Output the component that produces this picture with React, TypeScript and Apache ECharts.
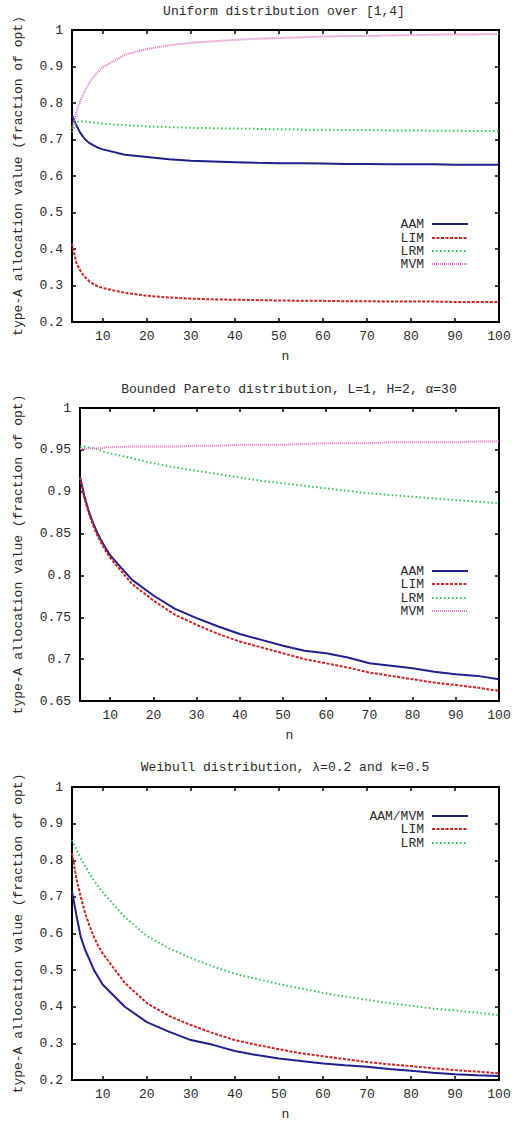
import React, { useEffect, useRef } from "react";
import * as echarts from "echarts";

// n values (x)
const N = [3, 4, 5, 6, 7, 8, 9, 10, 15, 20, 25, 30, 35, 40, 45, 50, 55, 60, 65, 70, 75, 80, 85, 90, 95, 100];
const X_TICKS = [10, 20, 30, 40, 50, 60, 70, 80, 90, 100];

// Panel 1: Uniform distribution over [1,4]
const uAAM = [0.767, 0.738, 0.716, 0.700, 0.690, 0.683, 0.677, 0.673, 0.658, 0.652, 0.646, 0.642, 0.640, 0.638, 0.636, 0.635, 0.635, 0.634, 0.633, 0.633, 0.632, 0.632, 0.632, 0.631, 0.631, 0.631];
const uLIM = [0.415, 0.362, 0.338, 0.322, 0.311, 0.303, 0.297, 0.293, 0.280, 0.272, 0.267, 0.264, 0.262, 0.261, 0.260, 0.259, 0.258, 0.258, 0.257, 0.257, 0.256, 0.256, 0.256, 0.255, 0.255, 0.255];
const uLRM = [0.720, 0.748, 0.750, 0.749, 0.748, 0.746, 0.745, 0.743, 0.739, 0.736, 0.734, 0.732, 0.731, 0.730, 0.729, 0.728, 0.727, 0.727, 0.726, 0.726, 0.725, 0.725, 0.724, 0.724, 0.723, 0.723];
const uMVM = [0.730, 0.775, 0.810, 0.835, 0.857, 0.873, 0.887, 0.898, 0.932, 0.948, 0.958, 0.965, 0.969, 0.973, 0.976, 0.978, 0.980, 0.982, 0.983, 0.984, 0.985, 0.986, 0.987, 0.988, 0.988, 0.989];

// Panel 2: Bounded Pareto distribution, L=1, H=2, alpha=30
const pAAM = [0.918, 0.895, 0.877, 0.863, 0.851, 0.841, 0.832, 0.824, 0.795, 0.776, 0.760, 0.749, 0.739, 0.730, 0.723, 0.716, 0.710, 0.707, 0.702, 0.695, 0.692, 0.689, 0.685, 0.682, 0.680, 0.676];
const pLIM = [0.917, 0.893, 0.875, 0.860, 0.848, 0.838, 0.829, 0.821, 0.790, 0.770, 0.753, 0.741, 0.730, 0.721, 0.714, 0.707, 0.700, 0.695, 0.690, 0.684, 0.680, 0.676, 0.672, 0.669, 0.666, 0.662];
const pLRM = [0.954, 0.954, 0.953, 0.952, 0.951, 0.949, 0.947, 0.946, 0.940, 0.934, 0.929, 0.925, 0.921, 0.917, 0.913, 0.910, 0.907, 0.904, 0.901, 0.898, 0.896, 0.894, 0.892, 0.890, 0.888, 0.886];
const pMVM = [0.951, 0.951, 0.952, 0.952, 0.952, 0.952, 0.953, 0.953, 0.954, 0.954, 0.954, 0.955, 0.955, 0.956, 0.956, 0.956, 0.957, 0.958, 0.958, 0.958, 0.959, 0.959, 0.959, 0.959, 0.960, 0.960];

// Panel 3: Weibull distribution, lambda=0.2 and k=0.5
const wAAMMVM = [0.715, 0.650, 0.590, 0.555, 0.528, 0.500, 0.480, 0.460, 0.400, 0.358, 0.332, 0.309, 0.296, 0.279, 0.268, 0.259, 0.252, 0.245, 0.240, 0.236, 0.230, 0.225, 0.220, 0.216, 0.213, 0.211];
const wLIM = [0.820, 0.750, 0.700, 0.655, 0.620, 0.590, 0.565, 0.545, 0.465, 0.410, 0.375, 0.350, 0.328, 0.309, 0.296, 0.284, 0.273, 0.265, 0.257, 0.249, 0.243, 0.238, 0.232, 0.227, 0.223, 0.218];
const wLRM = [0.855, 0.830, 0.805, 0.783, 0.763, 0.745, 0.728, 0.712, 0.645, 0.593, 0.560, 0.533, 0.510, 0.490, 0.476, 0.462, 0.450, 0.438, 0.428, 0.419, 0.410, 0.403, 0.395, 0.390, 0.384, 0.377];

const TITLES = [
  "Uniform distribution over [1,4]",
  "Bounded Pareto distribution, L=1, H=2, α=30",
  "Weibull distribution, λ=0.2 and k=0.5",
];
const Y_NAME = "type-A allocation value (fraction of opt)";
const X_NAME = "n";

const FONT = "'Courier New', Courier, 'Nimbus Mono PS', FreeMono, 'Liberation Mono', 'DejaVu Sans Mono', monospace";
const TEXT = "#2a2a2a";

const STYLE: Record<string, { color: string; type: any; width: number }> = {
  AAM: { color: "#20208c", type: "solid", width: 2 },
  LIM: { color: "#cc2222", type: [3, 1.5], width: 2 },
  LRM: { color: "#2ec850", type: [1.5, 2.5], width: 2 },
  MVM: { color: "#e070c4", type: [1, 1], width: 2 },
};

export default function App() {
  const ref = useRef<HTMLDivElement>(null);
  useEffect(() => {
    const chart = echarts.init(ref.current!, null, { renderer: "svg" });

    const panels = [
      {
        left: 72, top: 30, bottom: 322, yMin: 0.2, yMax: 1, yInt: 0.1,
        title: TITLES[0], tx: 284, ty: 11,
        series: [["AAM", uAAM, "AAM"], ["LIM", uLIM, "LIM"], ["LRM", uLRM, "LRM"], ["MVM", uMVM, "MVM"]],
        rows: [224, 238, 251, 264],
      },
      {
        left: 80, top: 408, bottom: 701, yMin: 0.65, yMax: 1, yInt: 0.05,
        title: TITLES[1], tx: 289, ty: 389,
        series: [["AAM", pAAM, "AAM"], ["LIM", pLIM, "LIM"], ["LRM", pLRM, "LRM"], ["MVM", pMVM, "MVM"]],
        rows: [571, 584, 598, 611],
      },
      {
        left: 72, top: 787, bottom: 1080, yMin: 0.2, yMax: 1, yInt: 0.1,
        title: TITLES[2], tx: 285, ty: 767,
        series: [["AAM/MVM", wAAMMVM, "AAM"], ["LIM", wLIM, "LIM"], ["LRM", wLRM, "LRM"]],
        rows: [816, 829, 843],
      },
    ];

    const grid: any[] = [];
    const xAxis: any[] = [];
    const yAxis: any[] = [];
    const series: any[] = [];
    const legend: any[] = [];
    const graphic: any[] = [];
    const tick = { inside: true, length: 4, lineStyle: { color: "#000", width: 1.5 } };
    const labelStyle = { fontFamily: FONT, fontSize: 13, color: TEXT };

    panels.forEach((p, i) => {
      grid.push({
        left: p.left, top: p.top, width: 499 - p.left, height: p.bottom - p.top,
        show: true, borderColor: "#000", borderWidth: 2, containLabel: false,
      });
      xAxis.push({
        gridIndex: i, type: "value", min: 3, max: 100, position: "bottom", splitNumber: 10,
        axisLine: { show: false }, splitLine: { show: false },
        axisTick: { ...tick, customValues: X_TICKS },
        axisLabel: { ...labelStyle, margin: 8, customValues: X_TICKS },
        name: X_NAME, nameLocation: "middle", nameGap: 28,
        nameTextStyle: { fontFamily: FONT, fontSize: 13, color: TEXT },
      });
      xAxis.push({
        gridIndex: i, type: "value", min: 3, max: 100, position: "top", splitNumber: 10,
        axisLine: { show: false }, splitLine: { show: false },
        axisTick: { ...tick, customValues: X_TICKS },
        axisLabel: { show: false },
      });
      yAxis.push({
        gridIndex: i, type: "value", min: p.yMin, max: p.yMax, interval: p.yInt, position: "left",
        axisLine: { show: false }, splitLine: { show: false },
        axisTick: tick,
        axisLabel: { ...labelStyle, margin: 9 },
        name: Y_NAME, nameLocation: "middle", nameGap: p.left - 25,
        nameTextStyle: { fontFamily: FONT, fontSize: 13, color: TEXT },
      });
      yAxis.push({
        gridIndex: i, type: "value", min: p.yMin, max: p.yMax, interval: p.yInt, position: "right",
        axisLine: { show: false }, splitLine: { show: false },
        axisTick: tick,
        axisLabel: { show: false },
      });
      p.series.forEach(([name, vals, key]: any, k: number) => {
        const s = STYLE[key];
        series.push({
          type: "line", name, xAxisIndex: 2 * i, yAxisIndex: 2 * i,
          data: N.map((n, j) => [n, vals[j]]),
          symbol: "none", showSymbol: false, z: 2 + k,
          lineStyle: { color: s.color, width: s.width, type: s.type },
          itemStyle: { color: s.color },
        });
        legend.push({
          data: [name], right: 63, top: p.rows[k] - 6.5, orient: "vertical", align: "right",
          itemWidth: 36, itemHeight: 13, padding: 0, selectedMode: false,
          itemStyle: { opacity: 0 },
          textStyle: { fontFamily: FONT, fontSize: 13, color: TEXT, padding: [0, 3, 0, 0] },
        });
      });
      graphic.push({
        type: "text", x: p.tx, y: p.ty,
        style: {
          text: p.title, fill: TEXT, font: `13px ${FONT}`,
          textAlign: "center", textVerticalAlign: "middle", align: "center", verticalAlign: "middle",
        },
      });
    });

    chart.setOption({
      animation: false,
      backgroundColor: "#fff",
      grid, xAxis, yAxis, series, legend, graphic,
    });
    return () => chart.dispose();
  }, []);
  return (
    <div
      ref={ref}
      style={{ position: "absolute", left: 0, top: 0, width: 532, height: 1123, background: "#fff" }}
    />
  );
}
